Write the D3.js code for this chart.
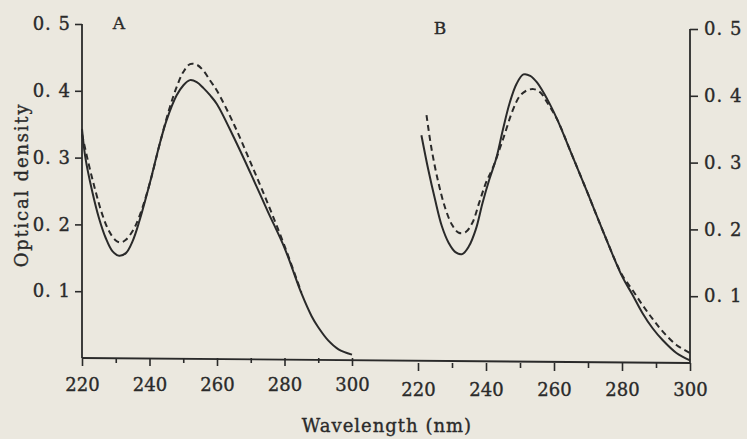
<!DOCTYPE html>
<html><head><meta charset="utf-8">
<script src="https://cdn.jsdelivr.net/npm/d3@7/dist/d3.min.js"></script>
<style>
html,body{margin:0;padding:0;background:#ebe8df;}
svg{display:block;}
text{font-family:"DejaVu Serif","Liberation Serif",serif;fill:#2a2a2a;}
</style></head>
<body>
<svg id="chart" width="747" height="439"></svg>
<script>
// ---- data ----
const xTicks = [220, 240, 260, 280, 300];
const xMinorTicks = [230, 250, 270, 290];
const yTicks = [0.1, 0.2, 0.3, 0.4, 0.5];
const yTickLabels = ["0. 1", "0. 2", "0. 3", "0. 4", "0. 5"];
const panelLabels = ["A", "B"];
const xTitle = "Wavelength (nm)";
const yTitle = "Optical density";

// Panel A
const aSolidWl = [220, 221, 223, 225, 227, 229, 231, 233, 235, 237, 240, 243, 245, 248, 250, 252, 254, 256, 258, 260, 265, 270, 275, 280, 285, 288, 290, 293, 296, 300];
const aSolidOD = [0.343, 0.30, 0.25, 0.21, 0.18, 0.16, 0.153, 0.157, 0.175, 0.205, 0.26, 0.32, 0.355, 0.393, 0.408, 0.416, 0.413, 0.404, 0.393, 0.38, 0.33, 0.276, 0.22, 0.165, 0.097, 0.063, 0.046, 0.026, 0.013, 0.005];
const aDashWl = [220, 222, 224, 226, 228, 230, 231.5, 233, 235, 237, 240, 243, 246, 248, 250, 252, 254, 256, 258, 260, 265, 270, 275, 280, 285];
const aDashOD = [0.335, 0.29, 0.25, 0.215, 0.19, 0.176, 0.173, 0.177, 0.19, 0.212, 0.26, 0.32, 0.375, 0.405, 0.428, 0.44, 0.439, 0.43, 0.415, 0.4, 0.35, 0.292, 0.232, 0.168, 0.098];

// Panel B
const bSolidWl = [221, 223, 225, 227, 229, 231, 233, 235, 237, 239, 241, 243, 245, 247, 249, 251, 253, 255, 258, 261, 265, 270, 275, 280, 283, 286, 289, 292, 296, 300];
const bSolidOD = [0.341, 0.29, 0.245, 0.205, 0.18, 0.166, 0.163, 0.175, 0.2, 0.24, 0.275, 0.306, 0.35, 0.39, 0.418, 0.432, 0.43, 0.42, 0.395, 0.364, 0.315, 0.253, 0.19, 0.13, 0.103, 0.075, 0.052, 0.034, 0.015, 0.004];
const bDashWl = [222.5, 224, 226, 228, 230, 232, 234, 236, 238, 240, 242, 245, 248, 250, 252, 254, 256, 258, 261, 265, 270, 275, 280, 283, 286, 289, 292, 296, 300];
const bDashOD = [0.371, 0.32, 0.27, 0.232, 0.207, 0.195, 0.196, 0.21, 0.24, 0.27, 0.292, 0.335, 0.38, 0.4, 0.408, 0.41, 0.405, 0.39, 0.364, 0.315, 0.253, 0.19, 0.132, 0.11, 0.087, 0.066, 0.047, 0.027, 0.015];

// ---- drawing ----
const svg = d3.select("#chart");
const ink = "#2a2a2a";
const FONT = "DejaVu Serif";

const xA = d3.scaleLinear().domain([220, 300]).range([82, 352]);
const xB = d3.scaleLinear().domain([220, 300]).range([418, 690]);
const yA = d3.scaleLinear().domain([0, 0.5]).range([358, 24]);
const yB = d3.scaleLinear().domain([0, 0.5]).range([363, 29]);

// baseline spanning both panels
svg.append("line").attr("x1", xA(220)).attr("y1", yA(0)).attr("x2", xB(300)).attr("y2", yB(0))
  .attr("stroke", ink).attr("stroke-width", 1.8);

function styleText(sel, size, ls) {
  sel.attr("font-family", FONT).style("font-size", size + "px").attr("fill", ink)
     .attr("stroke", ink).attr("stroke-width", 0.35)
     .style("letter-spacing", (ls || 0) + "px");
}

function xAxis(x, y) {
  const g = svg.append("g").attr("transform", `translate(0,${y(0)})`);
  g.call(d3.axisBottom(x).tickValues(xTicks).tickSize(8).tickPadding(12).tickFormat(d3.format("d")));
  g.append("g").call(d3.axisBottom(x).tickValues(xMinorTicks).tickSize(5).tickFormat(""));
  g.selectAll(".domain").remove();
  g.selectAll("line").attr("stroke", ink).attr("stroke-width", 1.6);
  styleText(g.selectAll("text"), 18, 0);
}
xAxis(xA, yA);
xAxis(xB, yB);

// left y axis
const gl = svg.append("g").attr("transform", `translate(${xA(220)},0)`)
  .call(d3.axisLeft(yA).tickValues(yTicks).tickSize(7).tickPadding(4).tickFormat((d, i) => yTickLabels[i]));
gl.select(".domain").attr("d", `M0,${yA(0.5)}V${yA(0)}`).attr("stroke", ink).attr("stroke-width", 1.8);
gl.selectAll("line").attr("stroke", ink).attr("stroke-width", 1.6);
styleText(gl.selectAll("text"), 18, 1);

// right y axis
const gr = svg.append("g").attr("transform", `translate(${xB(300)},0)`)
  .call(d3.axisRight(yB).tickValues(yTicks).tickSize(8).tickPadding(6).tickFormat((d, i) => yTickLabels[i]));
gr.select(".domain").attr("d", `M0,${yB(0.5)}V${yB(0)}`).attr("stroke", ink).attr("stroke-width", 1.8);
gr.selectAll("line").attr("stroke", ink).attr("stroke-width", 1.6);
styleText(gr.selectAll("text"), 18, 1);

// curves
function curve(wl, od, x, y, dashed) {
  const pts = wl.map((w, i) => [w, od[i]]);
  const line = d3.line().x(d => x(d[0])).y(d => y(d[1])).curve(d3.curveCatmullRom.alpha(0.5));
  svg.append("path").datum(pts).attr("d", line).attr("fill", "none")
    .attr("stroke", ink).attr("stroke-width", 2)
    .attr("stroke-dasharray", dashed ? "6,4" : null);
}
curve(aSolidWl, aSolidOD, xA, yA, false);
curve(aDashWl, aDashOD, xA, yA, true);
curve(bSolidWl, bSolidOD, xB, yB, false);
curve(bDashWl, bDashOD, xB, yB, true);

// panel labels
styleText(svg.append("text").attr("x", 119).attr("y", 29).attr("text-anchor", "middle").text(panelLabels[0]), 17, 0);
styleText(svg.append("text").attr("x", 440).attr("y", 34).attr("text-anchor", "middle").text(panelLabels[1]), 17, 0);

// titles
styleText(svg.append("text").attr("x", 387).attr("y", 432).attr("text-anchor", "middle").text(xTitle), 18, 1);
styleText(svg.append("text").attr("transform", "translate(28,185) rotate(-90)").attr("text-anchor", "middle").text(yTitle), 18, 1.8);
</script>
</body></html>
